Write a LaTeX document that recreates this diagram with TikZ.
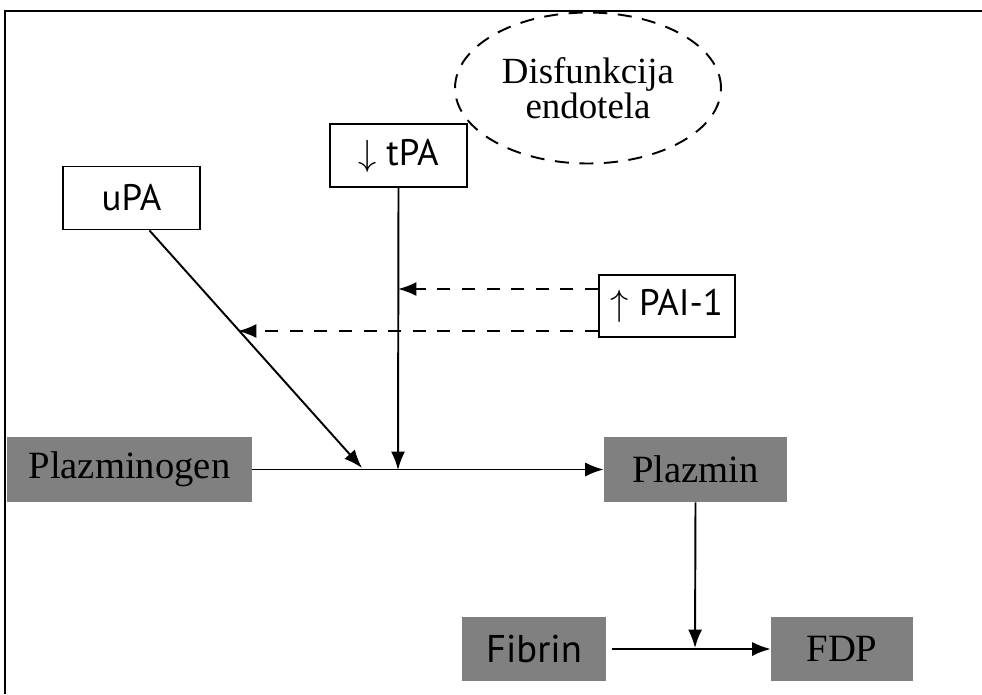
\documentclass[tikz,border=0pt]{standalone}
\usepackage{fontspec}
\setmainfont{Liberation Serif}
\setsansfont{PT Sans}
\usepackage{tikz}
\usetikzlibrary{arrows.meta,shapes.geometric}
\definecolor{boxgray}{RGB}{128,128,128}
\tikzset{whitebox/.style={draw, line width=1.1pt, fill=white, minimum width=2.74cm, minimum height=1.26cm,
         inner sep=0pt, font=\sffamily\fontsize{21}{24}\selectfont},
         graybox/.style={fill=boxgray, minimum height=1.3cm, inner sep=0pt,
         font=\fontsize{22}{24}\selectfont},
         arr/.style={line width=1.1pt, -{Latex[length=10.5pt,width=8pt]}},
         inhib/.style={arr, dash pattern=on 7.4pt off 6.6pt}}

\begin{document}
\begin{tikzpicture}[x=0.02cm, y=-0.02cm]
\useasboundingbox (0,0) rectangle (982,694);
\draw [line width=1.1pt] (5,694) -- (5,11) -- (982,11);

\node [draw, line width=1.1pt, dash pattern=on 8pt off 6pt, ellipse, minimum width=5.32cm, minimum height=3.02cm,
       align=center, font=\fontsize{21}{20}\selectfont] (dis) at (588,88) {Disfunkcija\\endotela};

\node [whitebox] (tpa) at (398.5,155.5) {$\downarrow$ tPA};
\node [whitebox] (upa) at (131.5,198) {uPA};
\node [whitebox, minimum width=2.72cm, minimum height=1.24cm] (pai) at (667,306) {$\uparrow$ PAI-1};

\node [graybox, minimum width=4.9cm] (plg) at (129.5,469.5) {Plazminogen};
\node [graybox, minimum width=3.66cm] (pl) at (695.5,469.5) {Plazmin};
\node [graybox, minimum width=2.88cm, minimum height=1.28cm, font=\sffamily\fontsize{22}{24}\selectfont] (fib) at (534,649) {Fibrin};
\node [graybox, minimum width=2.84cm, minimum height=1.28cm] (fdp) at (842,649) {FDP};

\coordinate (t) at (398,470);
\coordinate (u) at (362,468);
\coordinate (ta) at (398,289);
\coordinate (ua) at (238,331);
\coordinate (f) at (695,648);

\draw [arr] (plg.east) -- (pl.west);
\draw [arr] (tpa.south) -- (t);
\draw [arr] (upa.south) ++(18,0) -- (u);
\draw [inhib] (pai.west |- ta) -- (ta);
\draw [inhib] (pai.west |- ua) -- (ua);

\draw [arr] (pl.south) -- (f);
\draw [arr] (fib.east) ++(6,0) -- (fdp.west);
\end{tikzpicture}
\end{document}
